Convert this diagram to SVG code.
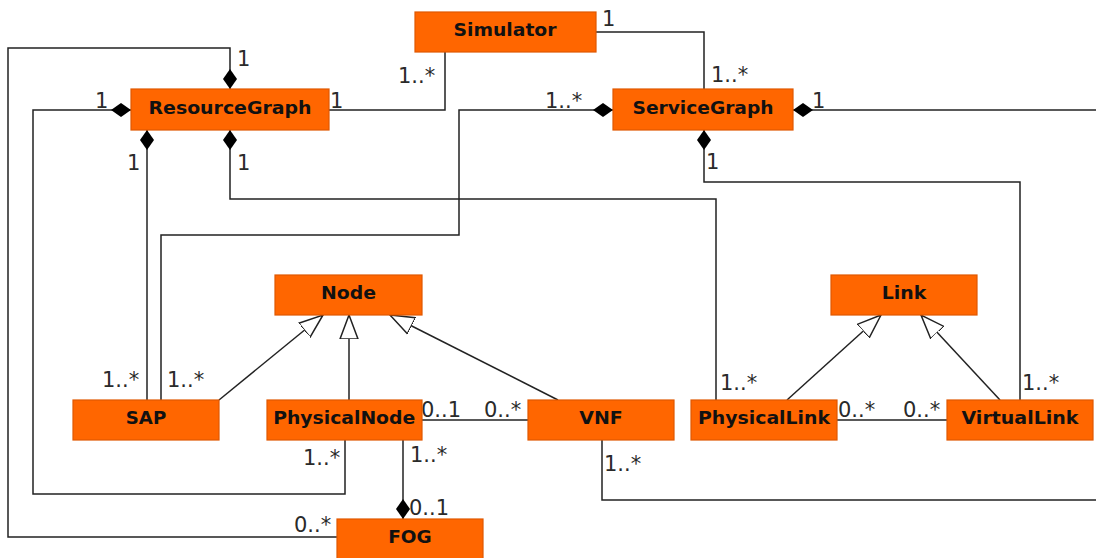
<svg xmlns="http://www.w3.org/2000/svg" width="1096" height="558" viewBox="0 0 1096 558">
  <style>
    .box { fill: #ff6600; stroke: #e05800; stroke-width: 1.2; }
    .name { font-family: "DejaVu Sans", "Liberation Sans", sans-serif; font-weight: bold; font-size: 18px; fill: #111; text-anchor: middle; }
    .edge { fill: none; stroke: #222; stroke-width: 1.5; }
    .mult { font-family: "DejaVu Sans", "Liberation Sans", sans-serif; font-size: 21px; fill: #2a2a2a; }
  </style>
  <defs>
    <!-- filled diamond for composition, tip sits on the owning class -->
    <marker id="diamond" markerUnits="userSpaceOnUse" markerWidth="22" markerHeight="16" viewBox="0 -8 22 16" refX="0" refY="0" orient="auto">
      <path d="M0,0 L10,-7 L20,0 L10,7 Z" fill="#000"/>
    </marker>
    <!-- hollow triangle for generalization -->
    <marker id="inherit" markerUnits="userSpaceOnUse" markerWidth="26" markerHeight="20" viewBox="0 -10 26 20" refX="24" refY="0" orient="auto">
      <path d="M0,-9 L24,0 L0,9 Z" fill="#fff" stroke="#222" stroke-width="1.5"/>
    </marker>
  </defs>

  <g id="connectors">
    <!-- compositions (path starts at the whole) -->
    <path class="edge" marker-start="url(#diamond)" d="M230,89 V48 H8 V537 H337"/>
    <path class="edge" marker-start="url(#diamond)" d="M131,110 H33 V494 H345 V440"/>
    <path class="edge" marker-start="url(#diamond)" d="M147,130 V400"/>
    <path class="edge" marker-start="url(#diamond)" d="M230,130 V199 H716 V400"/>
    <path class="edge" marker-start="url(#diamond)" d="M613,110 H459 V235 H161 V400"/>
    <path class="edge" marker-start="url(#diamond)" d="M704,130 V182 H1020 V400"/>
    <path class="edge" marker-start="url(#diamond)" d="M793,110 H1100"/>
    <path class="edge" marker-start="url(#diamond)" d="M403,519 V440"/>
    <!-- plain associations -->
    <path class="edge" d="M329,110 H445 V52"/>
    <path class="edge" d="M596,32 H704 V89"/>
    <path class="edge" d="M422,420 H528"/>
    <path class="edge" d="M837,420 H947"/>
    <path class="edge" d="M602,440 V500 H1100"/>
    <!-- generalizations -->
    <path class="edge" marker-end="url(#inherit)" d="M219,400 L323,315"/>
    <path class="edge" marker-end="url(#inherit)" d="M349,400 V315"/>
    <path class="edge" marker-end="url(#inherit)" d="M558,400 L390,315"/>
    <path class="edge" marker-end="url(#inherit)" d="M787,400 L881,315"/>
    <path class="edge" marker-end="url(#inherit)" d="M1000,400 L921,315"/>

    <!-- multiplicities -->
    <text class="mult" x="237" y="66">1</text>
    <text class="mult" x="294" y="532">0..*</text>
    <text class="mult" x="95" y="108">1</text>
    <text class="mult" x="303" y="465">1..*</text>
    <text class="mult" x="127" y="170">1</text>
    <text class="mult" x="102" y="387">1..*</text>
    <text class="mult" x="237" y="170">1</text>
    <text class="mult" x="720" y="390">1..*</text>
    <text class="mult" x="545" y="108">1..*</text>
    <text class="mult" x="167" y="387">1..*</text>
    <text class="mult" x="706" y="169">1</text>
    <text class="mult" x="1022" y="390">1..*</text>
    <text class="mult" x="812" y="108">1</text>
    <text class="mult" x="409" y="515">0..1</text>
    <text class="mult" x="410" y="462">1..*</text>
    <text class="mult" x="330" y="108">1</text>
    <text class="mult" x="398" y="83">1..*</text>
    <text class="mult" x="602" y="26">1</text>
    <text class="mult" x="711" y="82">1..*</text>
    <text class="mult" x="421" y="417">0..1</text>
    <text class="mult" x="484" y="417">0..*</text>
    <text class="mult" x="838" y="417">0..*</text>
    <text class="mult" x="903" y="417">0..*</text>
    <text class="mult" x="604" y="471">1..*</text>
  </g>

  <g id="Simulator">
    <rect class="box" x="415" y="12" width="181" height="40"/>
    <text class="name" x="505" y="36" textLength="103" lengthAdjust="spacingAndGlyphs">Simulator</text>
  </g>
  <g id="ResourceGraph">
    <rect class="box" x="131" y="89" width="198" height="41"/>
    <text class="name" x="230" y="113.5" textLength="163" lengthAdjust="spacingAndGlyphs">ResourceGraph</text>
  </g>
  <g id="ServiceGraph">
    <rect class="box" x="613" y="89" width="180" height="41"/>
    <text class="name" x="703" y="113.5" textLength="141" lengthAdjust="spacingAndGlyphs">ServiceGraph</text>
  </g>
  <g id="Node">
    <rect class="box" x="275" y="275" width="147" height="40"/>
    <text class="name" x="348.5" y="299" textLength="55" lengthAdjust="spacingAndGlyphs">Node</text>
  </g>
  <g id="Link">
    <rect class="box" x="831" y="275" width="146" height="40"/>
    <text class="name" x="904" y="299" textLength="44.5" lengthAdjust="spacingAndGlyphs">Link</text>
  </g>
  <g id="SAP">
    <rect class="box" x="73" y="400" width="146" height="40"/>
    <text class="name" x="146" y="424.3" textLength="40.5" lengthAdjust="spacingAndGlyphs">SAP</text>
  </g>
  <g id="PhysicalNode">
    <rect class="box" x="267" y="400" width="155" height="40"/>
    <text class="name" x="344.2" y="424.3" textLength="142" lengthAdjust="spacingAndGlyphs">PhysicalNode</text>
  </g>
  <g id="VNF">
    <rect class="box" x="528" y="400" width="146" height="40"/>
    <text class="name" x="601" y="424.3" textLength="43.5" lengthAdjust="spacingAndGlyphs">VNF</text>
  </g>
  <g id="PhysicalLink">
    <rect class="box" x="691" y="400" width="146" height="40"/>
    <text class="name" x="764" y="424.3" textLength="132" lengthAdjust="spacingAndGlyphs">PhysicalLink</text>
  </g>
  <g id="VirtualLink">
    <rect class="box" x="947" y="400" width="146" height="40"/>
    <text class="name" x="1020" y="424.3" textLength="117" lengthAdjust="spacingAndGlyphs">VirtualLink</text>
  </g>
  <g id="FOG">
    <rect class="box" x="337" y="519" width="146" height="42"/>
    <text class="name" x="410" y="543.3" textLength="43.5" lengthAdjust="spacingAndGlyphs">FOG</text>
  </g>
</svg>
